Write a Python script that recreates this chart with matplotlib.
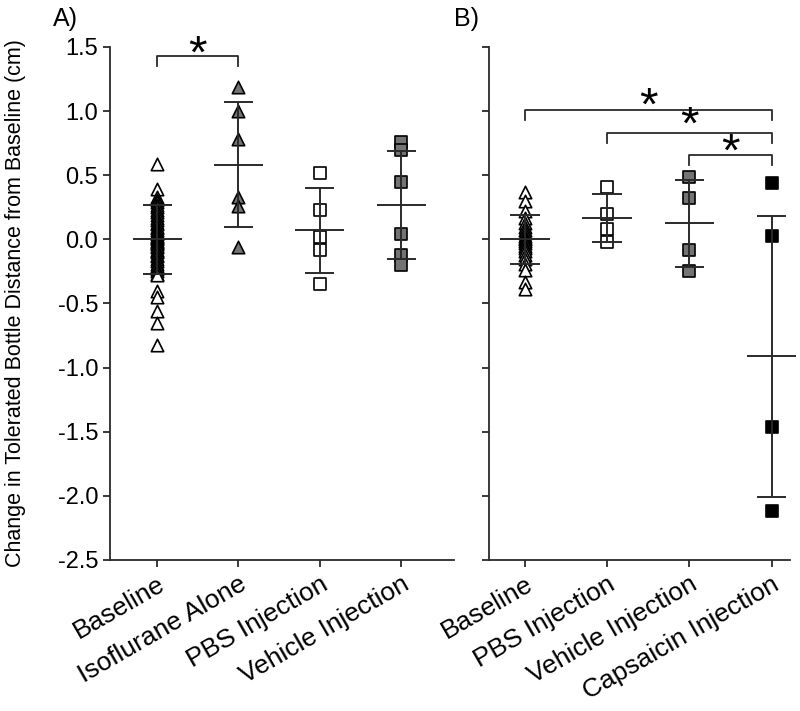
import numpy as np
import matplotlib
matplotlib.use('Agg')
import matplotlib.pyplot as plt

plt.rcParams['font.family'] = ['Liberation Sans', 'DejaVu Sans']

# panel A data (cm)
labels_a = ['Baseline', 'Isoflurane Alone', 'PBS Injection', 'Vehicle Injection']
baseline_a = [0.59, 0.39, 0.33, 0.31, 0.29, 0.27, 0.25, 0.23, 0.21, 0.19, 0.17, 0.15,
              0.13, 0.12, 0.10, 0.09, 0.07, 0.06, 0.05, 0.04, 0.03, 0.02, 0.01, 0.0,
              -0.01, -0.02, -0.03, -0.04, -0.05, -0.06, -0.08, -0.09, -0.10, -0.12,
              -0.13, -0.15, -0.17, -0.19, -0.21, -0.23, -0.25, -0.27, -0.28, -0.40,
              -0.45, -0.56, -0.65, -0.82]
isoflurane_a = [1.19, 1.00, 0.78, 0.33, 0.26, -0.06]
pbs_a = [0.52, 0.23, 0.015, -0.08, -0.35]
vehicle_a = [0.76, 0.70, 0.45, 0.04, -0.12, -0.20]
mean_a = [0.0, 0.58, 0.07, 0.27]
sd_up_a = [0.27, 1.07, 0.40, 0.69]
sd_lo_a = [-0.27, 0.10, -0.26, -0.155]

# panel B data (cm)
labels_b = ['Baseline', 'PBS Injection', 'Vehicle Injection', 'Capsaicin Injection']
baseline_b = [0.37, 0.30, 0.22, 0.17, 0.13, 0.10, 0.07, 0.05, 0.03, 0.01, 0.0,
              -0.01, -0.03, -0.05, -0.07, -0.09, -0.12, -0.15, -0.19, -0.24, -0.33, -0.39]
pbs_b = [0.41, 0.20, 0.08, -0.02]
vehicle_b = [0.49, 0.32, -0.08, -0.25]
capsaicin_b = [0.44, 0.03, -1.46, -2.12]
mean_b = [0.0, 0.165, 0.125, -0.91]
sd_up_b = [0.19, 0.35, 0.46, 0.18]
sd_lo_b = [-0.195, -0.02, -0.215, -2.01]

GRAY = '#747474'
LINE = '#2a2a2a'

fig = plt.figure(figsize=(8, 7.11), dpi=100)
ax_a = fig.add_axes([0.1375, 0.2124, 0.43, 0.7215])
ax_b = fig.add_axes([0.611, 0.2124, 0.376, 0.7215])


def draw_group(ax, x, vals, marker, face):
    ax.scatter(np.full(len(vals), x), vals, marker=marker, s=80 if marker == '^' else 70,
               facecolors=face, edgecolors='black', linewidths=1.2, zorder=2)


def draw_stats(ax, means, up, lo):
    xs = np.arange(len(means))
    kw = dict(color=LINE, lw=1.4, zorder=3, clip_on=False)
    ax.vlines(xs, lo, up, **kw)
    ax.hlines(up, xs - 0.18, xs + 0.18, **kw)
    ax.hlines(lo, xs - 0.18, xs + 0.18, **kw)
    ax.hlines(means, xs - 0.3, xs + 0.3, **kw)


def bracket(ax, x1, x2, y, star_y):
    ax.plot([x1, x1, x2, x2], [y - 0.08, y, y, y - 0.08], color=LINE, lw=1.3, clip_on=False)
    ax.text((x1 + x2) / 2, star_y, '*', ha='center', va='center', fontsize=34, clip_on=False)


draw_group(ax_a, 0, baseline_a, '^', 'white')
draw_group(ax_a, 1, isoflurane_a, '^', GRAY)
draw_group(ax_a, 2, pbs_a, 's', 'white')
draw_group(ax_a, 3, vehicle_a, 's', GRAY)
draw_stats(ax_a, mean_a, sd_up_a, sd_lo_a)
bracket(ax_a, 0, 1, 1.43, 1.43)

draw_group(ax_b, 0, baseline_b, '^', 'white')
draw_group(ax_b, 1, pbs_b, 's', 'white')
draw_group(ax_b, 2, vehicle_b, 's', GRAY)
draw_group(ax_b, 3, capsaicin_b, 's', 'black')
draw_stats(ax_b, mean_b, sd_up_b, sd_lo_b)
bracket(ax_b, 0, 3, 1.01, 1.03)
bracket(ax_b, 1, 3, 0.83, 0.875)
bracket(ax_b, 2, 3, 0.66, 0.67)

for ax, labels, xlim in [(ax_a, labels_a, (-0.58, 3.65)), (ax_b, labels_b, (-0.44, 3.22))]:
    ax.set_xlim(*xlim)
    ax.set_ylim(-2.5, 1.5)
    ax.set_yticks(np.arange(-2.5, 1.51, 0.5))
    ax.set_xticks(range(4))
    ax.set_xticklabels(labels, rotation=30, ha='right', rotation_mode='anchor', fontsize=19)
    ax.spines['top'].set_visible(False)
    ax.spines['right'].set_visible(False)
    for s in ('left', 'bottom'):
        ax.spines[s].set_color(LINE)
        ax.spines[s].set_linewidth(1.3)
    ax.tick_params(direction='out', length=5, width=1.3, color=LINE, labelsize=17)
    ax.tick_params(axis='x', labelsize=19)

ax_a.set_yticklabels(['%.1f' % v for v in np.arange(-2.5, 1.51, 0.5)])
ax_b.set_yticklabels([])
ax_a.set_ylabel('Change in Tolerated Bottle Distance from Baseline (cm)', fontsize=15.5)
ax_a.yaxis.set_label_coords(-0.245, 0.5)

fig.text(0.066, 0.99, 'A)', fontsize=18, va='top')
fig.text(0.567, 0.99, 'B)', fontsize=18, va='top')

fig.savefig('out.png', dpi=100)
